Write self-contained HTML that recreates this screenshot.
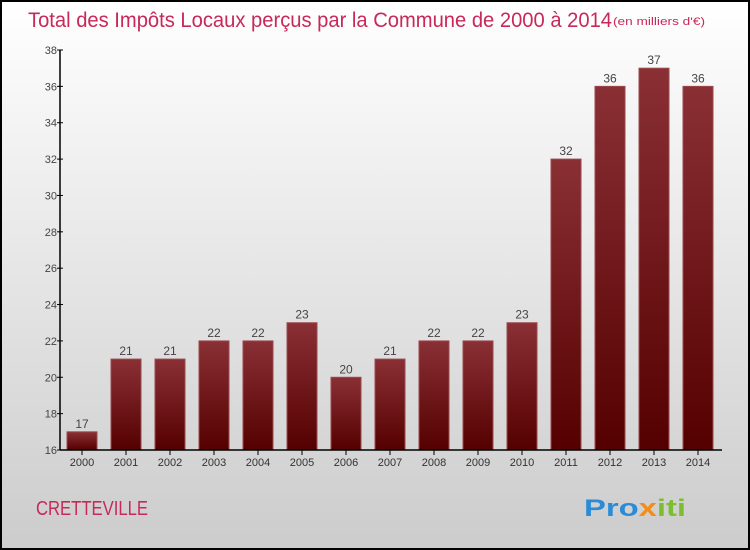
<!DOCTYPE html>
<html><head><meta charset="utf-8"><style>
body{margin:0}
svg{display:block;font-family:"Liberation Sans","DejaVu Sans",sans-serif}
</style></head><body>
<svg width="750" height="550" xmlns="http://www.w3.org/2000/svg">
<defs>
<linearGradient id="bg" x1="0" y1="0" x2="0" y2="1"><stop offset="0" stop-color="#ffffff"/><stop offset="1" stop-color="#cccccc"/></linearGradient>
<linearGradient id="bar" x1="0" y1="0" x2="0" y2="1"><stop offset="0" stop-color="#8a3035"/><stop offset="1" stop-color="#550000"/></linearGradient>
</defs>
<rect x="1" y="1" width="748" height="548" fill="url(#bg)" stroke="#000" stroke-width="2"/>
<text x="28" y="27" font-size="21" fill="#c8285a" textLength="584" lengthAdjust="spacingAndGlyphs">Total des Impôts Locaux perçus par la Commune de 2000 à 2014</text>
<text x="613" y="25" font-size="11" fill="#c8285a" textLength="92" lengthAdjust="spacingAndGlyphs">(en milliers d'€)</text>
<g id="bars"></g>
<g id="axes"></g>
<text x="36" y="515" font-size="20" fill="#c8285a" textLength="112" lengthAdjust="spacingAndGlyphs">CRETTEVILLE</text>
<text x="584" y="516" font-size="24" font-weight="bold" textLength="102" lengthAdjust="spacingAndGlyphs"><tspan fill="#2a8bd6">Pro</tspan><tspan fill="#f28c1a">x</tspan><tspan fill="#7cbf2e">iti</tspan></text>
</svg>
<script>
const categories=["2000","2001","2002","2003","2004","2005","2006","2007","2008","2009","2010","2011","2012","2013","2014"];
const values=[17,21,21,22,22,23,20,21,22,22,23,32,36,37,36];
const yTicks=[16,18,20,22,24,26,28,30,32,34,36,38];
const NS="http://www.w3.org/2000/svg";
const y=v=>450-(v-16)*(400/22);
const x=i=>82+i*44;
function mk(t,a,p){const e=document.createElementNS(NS,t);for(const k in a)e.setAttribute(k,a[k]);p.appendChild(e);return e;}
const gb=document.getElementById('bars'),ga=document.getElementById('axes');
values.forEach((v,i)=>{
 const r=mk('rect',{x:x(i)-15,y:y(v),width:30,height:450-y(v),fill:'url(#bar)',stroke:'#9a4a4f','stroke-width':1},gb);
 
 
 const t=mk('text',{x:x(i),y:y(v)-4,'text-anchor':'middle','font-size':12,fill:'#444'},gb);
 t.textContent=v;
 
 
 const tk=mk('line',{x1:x(i),x2:x(i),y1:450,y2:455,stroke:'#000'},ga);
 
 
 const l=mk('text',{x:x(i),y:466,'text-anchor':'middle','font-size':11,fill:'#333'},ga);
 l.textContent=categories[i];
 
 
});
yTicks.forEach(v=>{
 const tk=mk('line',{x1:57,x2:63,y1:y(v),y2:y(v),stroke:'#000'},ga);
 
 
 const l=mk('text',{x:57,y:y(v)+4,'text-anchor':'end','font-size':11,fill:'#444'},ga);
 l.textContent=v;
 
 
});
const ay=mk('line',{x1:60,x2:60,y1:50,y2:450,stroke:'#000','stroke-width':1.5},ga);


const ax=mk('line',{x1:60,x2:722,y1:450,y2:450,stroke:'#000','stroke-width':1.5},ga);


</script>
</body></html>
